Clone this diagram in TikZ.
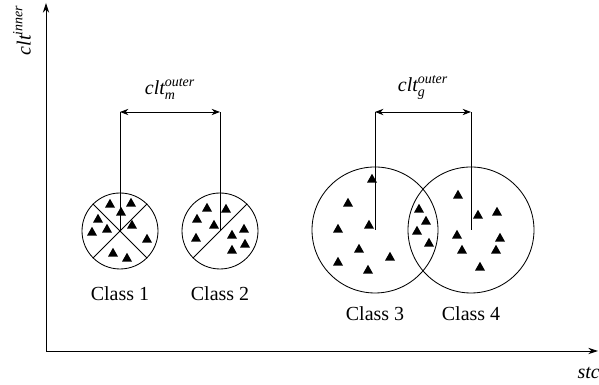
\documentclass[tikz,border=0pt]{standalone}
\usepackage{fontspec}
\setmainfont{Liberation Serif}
\usetikzlibrary{positioning,arrows.meta}

\begin{document}
\begin{tikzpicture}[
  cls/.style={draw, circle, line width=0.6pt, inner sep=0pt},
  small/.style={cls, minimum size=1.9cm},
  big/.style={cls, minimum size=3.15cm},
  lbl/.style={font=\fontsize{14.2}{17}\selectfont},
  axis/.style={line width=0.6pt, -{Stealth[length=7pt,width=4.5pt]}},
  dim/.style={line width=0.6pt,
    {Stealth[length=6pt,width=4.5pt]}-{Stealth[length=6pt,width=4.5pt]}},
  part/.style={line width=0.6pt},
  tri/.pic={\fill (-0.125,-0.09) -- (0.125,-0.09) -- (0,0.13) -- cycle;}
]
\useasboundingbox (0,0) rectangle (14.975,9.625);

% --- Axes ---
\coordinate (o) at (1.15,0.85);
\coordinate (yend) at (1.15,9.55);
\coordinate (xend) at (14.95,0.85);
\draw[axis] (o) -- (yend);
\draw[axis] (o) -- (xend);
\node[lbl, rotate=90] (ylab) at (0.55,8.875) {$\mathit{clt}^{\mathit{inner}}$};
\node[lbl, anchor=east, inner sep=0pt] (xlab) at (15,0.3) {$\mathit{stc}$};

% --- Classes ---
\node[small] (c1) at (3,3.85) {};
\node[small] (c2) at (5.5,3.85) {};
\node[big] (c3) at (9.375,3.875) {};
\node[big] (c4) at (11.775,3.875) {};

\node[lbl, below=0.3cm of c1] (l1) {Class 1};
\node[lbl, below=0.3cm of c2] (l2) {Class 2};
\node[lbl, below=0.2cm of c3] (l3) {Class 3};
\node[lbl, below=0.2cm of c4] (l4) {Class 4};

% split lines inside the small classes
\draw[part] (c1.45) -- (c1.225);
\draw[part] (c1.135) -- (c1.315);
\draw[part] (c2.225) -- (c2.45);

% --- Samples ---
\foreach \p in {(-0.25,0.675), (0.275,0.7), (0.025,0.475), (-0.55,0.3),
  (0.3,0.15), (-0.7,-0.025), (-0.325,0.05), (0.675,-0.2), (-0.175,-0.55),
  (0.175,-0.675)}
  \pic at ([shift={\p}]c1.center) {tri};
\foreach \p in {(-0.325,0.575), (0.15,0.55), (-0.575,0.3), (-0.15,0.15),
  (-0.6,-0.175), (0.6,0.05), (0.3,-0.1), (0.625,-0.325), (0.3,-0.475)}
  \pic at ([shift={\p}]c2.center) {tri};
\foreach \p in {(-0.075,1.275), (-0.675,0.675), (-0.925,0.025), (-0.15,0.125),
  (-0.4,-0.475), (-0.925,-0.8), (-0.175,-1.0), (0.375,-0.675),
  (1.1,0.525), (1.275,0.225), (1.05,-0.025), (1.35,-0.325)} % last four in the overlap
  \pic at ([shift={\p}]c3.center) {tri};
\foreach \p in {(-0.325,0.875), (0.175,0.375), (0.65,0.45), (-0.35,-0.125),
  (0.725,-0.2), (-0.225,-0.5), (0.625,-0.5), (0.225,-0.925)}
  \pic at ([shift={\p}]c4.center) {tri};

% --- Outer distances ---
\coordinate (lvl) at (0,6.825);
\draw[part] (c1.center) -- (c1.center |- lvl) coordinate (m1);
\draw[part] (c2.center) -- (c2.center |- lvl) coordinate (m2);
\draw[part] (c3.center) -- (c3.center |- lvl) coordinate (g1);
\draw[part] (c4.center) -- (c4.center |- lvl) coordinate (g2);

\draw[dim] (m1) -- (m2)
  node[lbl, midway, above=5pt] (lm) {$\mathit{clt}_{\mathit{m}}^{\mathit{outer}}$};
\draw[dim] (g1) -- (g2)
  node[lbl, midway, above=5pt] (lg) {$\mathit{clt}_{\mathit{g}}^{\mathit{outer}}$};
\end{tikzpicture}
\end{document}
